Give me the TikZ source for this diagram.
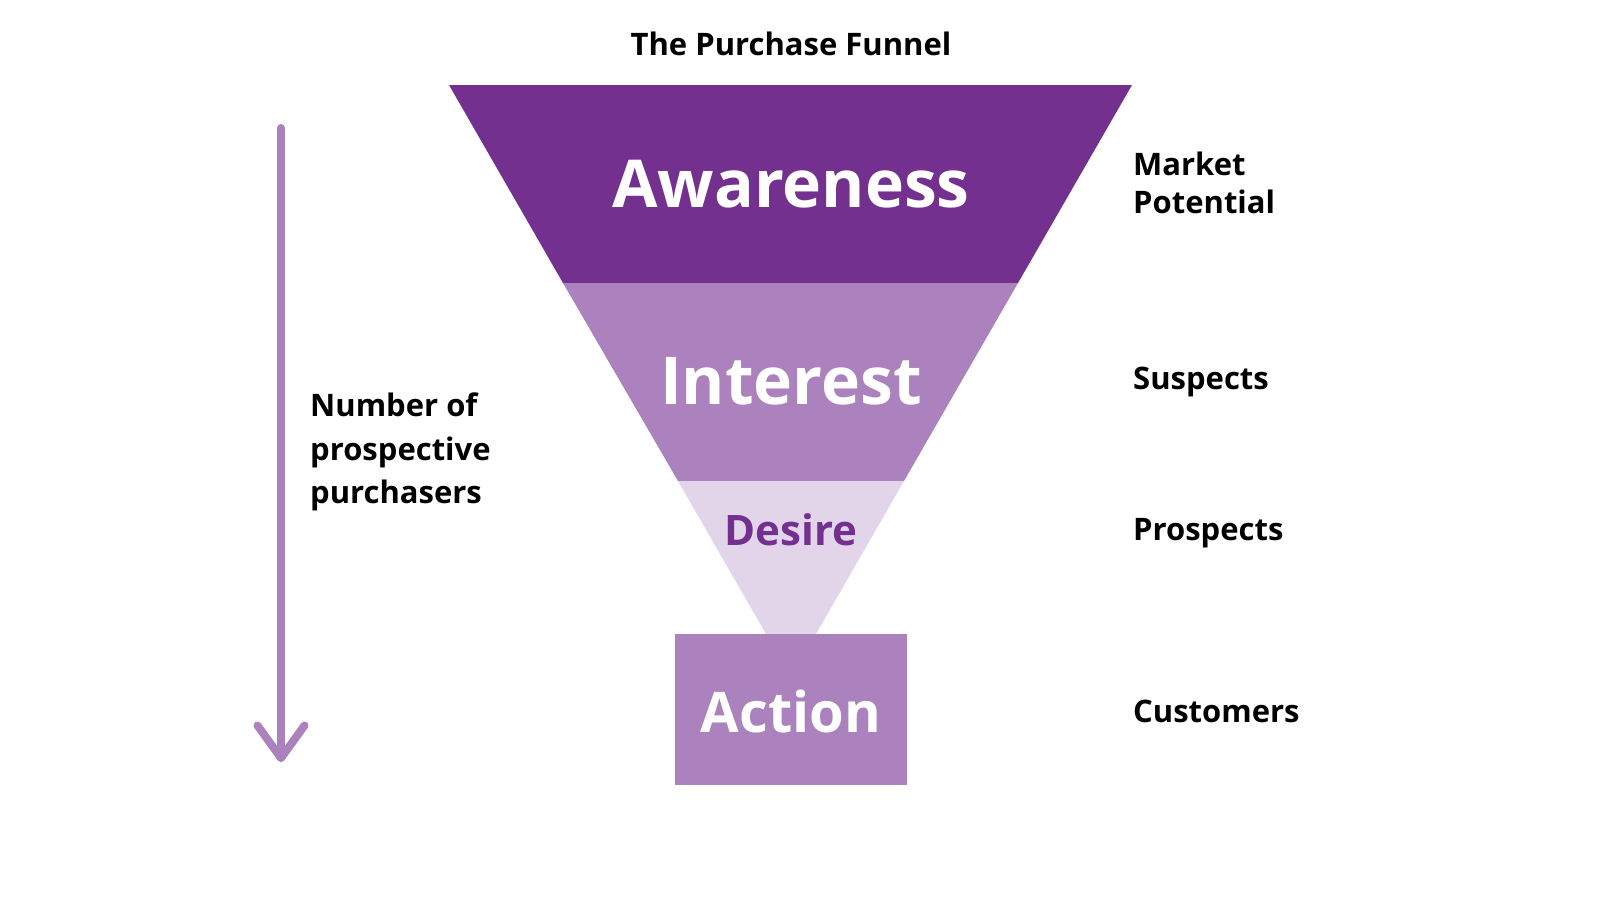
\documentclass[tikz,border=0pt]{standalone}
\usepackage{fontspec}
\setmainfont{Open Sans}
\definecolor{deeppurple}{HTML}{73308F}
\definecolor{midpurple}{HTML}{AB82BE}
\definecolor{palepurple}{HTML}{E2D5EA}
\begin{document}
\begin{tikzpicture}[x=1pt,y=-1pt]
	\tikzset{stage/.style={font=\bfseries, text=white, inner sep=0pt},
		side/.style={font=\bfseries\fontsize{31}{38.5}\selectfont, anchor=west, align=left, inner sep=0pt}
	}
	\useasboundingbox (0,0) rectangle (1600,900);
	% funnel layers
	\fill[deeppurple] (449,85) -- (1132,85) -- (1018,283) -- (563,283) -- cycle;
	\fill[midpurple] (563,283) -- (1018,283) -- (904,481) -- (678,481) -- cycle;
	\fill[palepurple] (678,481) -- (904,481) -- (816,634) -- (766,634) -- cycle;
	\fill[midpurple] (675,634) rectangle (907,785);
	
	\node (title) at (791,44) [font=\bfseries\fontsize{31}{36}\selectfont, inner sep=0pt] {The Purchase Funnel};
	\node (aware) at (791,184) [stage, font=\bfseries\fontsize{66}{70}\selectfont] {Awareness};
	\node (inter) at (791,381) [stage, font=\bfseries\fontsize{66}{70}\selectfont] {Interest};
	\node (desire) at (791,530) [stage, text=deeppurple, font=\bfseries\fontsize{42}{46}\selectfont] {Desire};
	\node (action) at (791,711) [stage, font=\bfseries\fontsize{56}{60}\selectfont] {Action};
	
	\node (market) at (1133,183) [side] {Market\\Potential};
	\node (suspects) at (1133,382) [side] {Suspects};
	\node (prospects) at (1133,533) [side] {Prospects};
	\node (customers) at (1133,711) [side] {Customers};
	\node (number) at (310,452) [side, font=\bfseries\fontsize{31}{43.5}\selectfont] {Number of\\prospective\\purchasers};
	
	% arrow on the left
	\coordinate (arrtop) at (281,128);
	\coordinate (arrbot) at (281,758);
	\draw[midpurple, line width=8pt, line cap=round, line join=round] (arrtop) -- (arrbot);
	\draw[midpurple, line width=8pt, line cap=round, line join=round] (arrbot) ++(-23.5,-32.5) -- (arrbot) -- ++(23.5,-32.5);
\end{tikzpicture}
\end{document}
